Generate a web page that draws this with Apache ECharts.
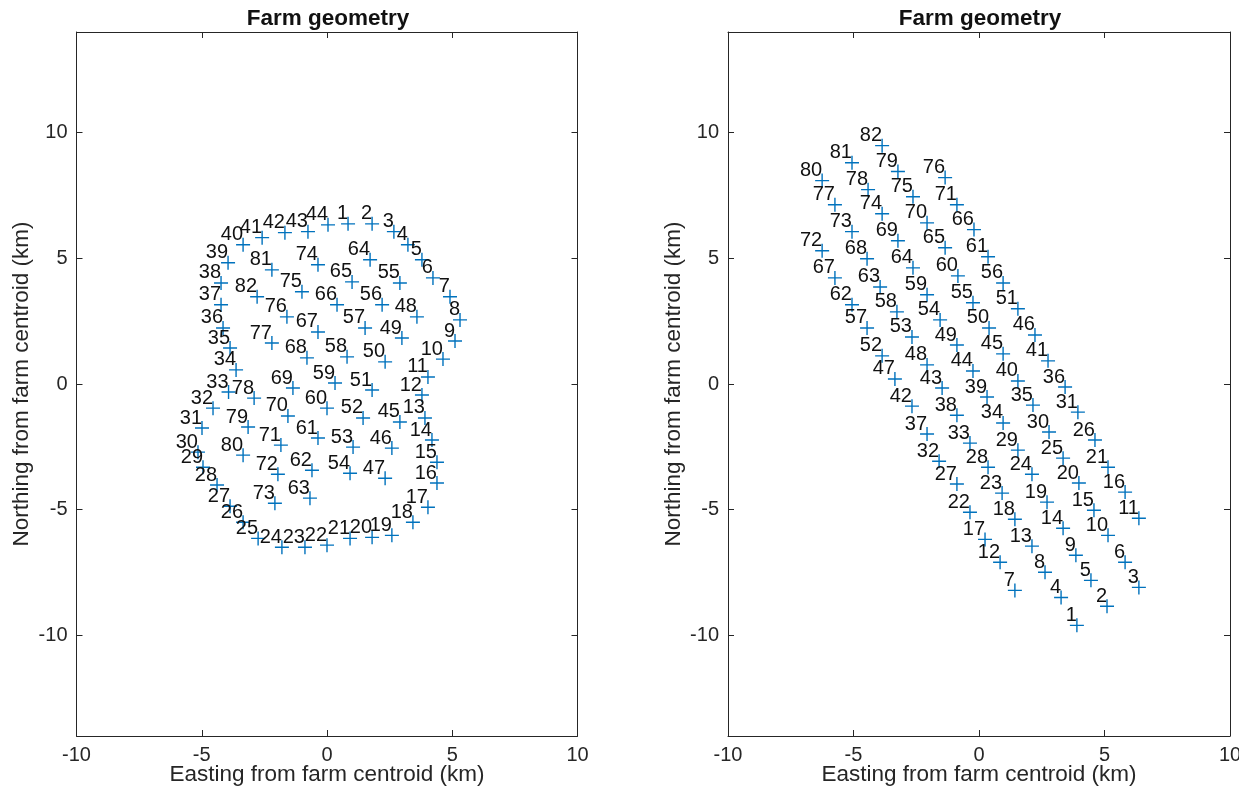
<!DOCTYPE html>
<html>
<head>
<meta charset="utf-8">
<script src="https://cdn.jsdelivr.net/npm/echarts@6/dist/echarts.min.js"></script>
<style>
html,body{margin:0;padding:0;background:#fff;}
#chart{width:1239px;height:790px;}
</style>
</head>
<body>
<div id="chart"></div>
<script>
// Left panel: turbine positions (km), turbine n = index+1
const leftX = [0.84,1.80,2.67,3.23,3.79,4.23,4.91,5.31,5.11,4.63,4.03,3.79,3.91,4.19,4.39,4.39,4.03,3.43,2.59,1.80,0.92,0.00,-0.88,-1.80,-2.75,-3.35,-3.87,-4.39,-4.95,-5.15,-4.99,-4.55,-3.93,-3.63,-3.87,-4.15,-4.23,-4.23,-3.95,-3.35,-2.59,-1.68,-0.76,0.04,2.91,2.59,2.32,3.59,2.99,2.32,1.80,1.44,1.04,0.92,2.91,2.20,1.52,0.80,0.32,0.00,-0.36,-0.60,-0.68,1.72,1.00,0.40,-0.36,-0.80,-1.36,-1.56,-1.84,-1.96,-2.08,-0.36,-1.00,-1.60,-2.20,-2.91,-3.15,-3.35,-2.20,-2.79];
const leftY = [6.37,6.37,6.06,5.54,4.94,4.22,3.47,2.55,1.71,0.99,0.28,-0.44,-1.35,-2.23,-3.11,-3.94,-4.90,-5.50,-6.02,-6.10,-6.14,-6.41,-6.49,-6.49,-6.14,-5.50,-4.86,-4.02,-3.31,-2.71,-1.75,-0.96,-0.32,0.56,1.43,2.23,3.15,4.02,4.82,5.54,5.82,6.02,6.06,6.33,-1.51,-2.55,-3.75,2.67,1.83,0.88,-0.24,-1.35,-2.51,-3.55,4.02,3.15,2.23,1.08,0.04,-0.96,-2.15,-3.43,-4.54,4.94,4.06,3.15,2.07,1.04,-0.16,-1.27,-2.43,-3.59,-4.74,4.74,3.67,2.67,1.63,-0.56,-1.71,-2.83,4.54,3.47];
// Right panel
const rightX = [3.90,5.10,6.37,3.27,4.46,5.82,1.43,2.63,3.86,5.14,6.37,0.84,2.11,3.35,4.58,5.82,0.24,1.43,2.71,3.98,5.14,-0.36,0.92,2.11,3.35,4.62,-0.88,0.36,1.55,2.79,3.94,-1.59,-0.36,0.96,2.15,3.43,-2.07,-0.88,0.32,1.55,2.75,-2.67,-1.47,-0.24,0.96,2.23,-3.35,-2.07,-0.88,0.40,1.55,-3.86,-2.67,-1.55,-0.24,0.96,-4.46,-3.27,-2.07,-0.84,0.36,-5.06,-3.94,-2.63,-1.35,-0.20,-5.74,-4.46,-3.23,-2.07,-0.88,-6.25,-5.06,-3.86,-2.63,-1.35,-5.74,-4.42,-3.23,-6.25,-5.06,-3.86];
const rightY = [-9.60,-8.84,-8.09,-8.49,-7.81,-7.09,-8.21,-7.49,-6.81,-6.02,-5.34,-7.09,-6.45,-5.74,-5.02,-4.30,-6.18,-5.38,-4.70,-3.94,-3.31,-5.10,-4.34,-3.59,-2.95,-2.23,-3.98,-3.31,-2.63,-1.91,-1.12,-3.07,-2.35,-1.55,-0.84,-0.12,-1.99,-1.24,-0.52,0.12,0.92,-0.88,-0.16,0.52,1.20,1.95,0.20,0.76,1.55,2.23,2.99,1.12,1.87,2.55,3.23,4.02,2.23,2.87,3.55,4.30,5.06,3.15,3.86,4.62,5.42,6.14,4.22,4.98,5.70,6.41,7.13,5.30,6.06,6.77,7.45,8.21,7.13,7.73,8.45,8.09,8.80,9.48];
const xTicks = [-10,-5,0,5,10];
const yTicks = [-10,-5,0,5,10];
const titles = ['Farm geometry','Farm geometry'];
const xName = 'Easting from farm centroid (km)';
const yName = 'Northing from farm centroid (km)';

const FONT = "'Liberation Sans', Arial, Helvetica, sans-serif";
const AX = '#262626';
const BLUE = '#0072BD';
const PLUS = 'path://M45,0H55V45H100V55H55V100H45V55H0V45H45Z';

function zip(xs, ys){ return xs.map((x,i)=>[x, ys[i]]); }

const grids = [
  {left: 76.5, top: 32, width: 501, height: 704, outerBoundsMode: 'none', containLabel: false},
  {left: 728, top: 32, width: 502, height: 704, outerBoundsMode: 'none', containLabel: false}
];

const xAxes = [], yAxes = [];
[0,1].forEach(g=>{
  const baseLine = {onZero:false, lineStyle:{color:AX, width:1}};
  xAxes.push({
    gridIndex:g, type:'value', min:-10, max:10, position:'bottom',
    axisLine: baseLine,
    axisTick:{inside:true, length:6, lineStyle:{color:AX}, customValues:xTicks},
    axisLabel:{customValues:xTicks, fontSize:20, color:AX, fontFamily:FONT, margin:9},
    splitLine:{show:false},
    name:xName, nameLocation:'middle', nameGap:39, nameMoveOverlap:false,
    nameTextStyle:{fontSize:22.5, color:AX, fontFamily:FONT, verticalAlign:'middle'}
  });
  xAxes.push({
    gridIndex:g, type:'value', min:-10, max:10, position:'top',
    axisLine: baseLine,
    axisTick:{inside:true, length:6, lineStyle:{color:AX}, customValues:xTicks},
    axisLabel:{show:false, customValues:xTicks},
    splitLine:{show:false}
  });
  yAxes.push({
    gridIndex:g, type:'value', min:-14, max:14, position:'left',
    axisLine: baseLine,
    axisTick:{inside:true, length:6, lineStyle:{color:AX}, customValues:yTicks},
    axisLabel:{customValues:yTicks, fontSize:20, color:AX, fontFamily:FONT, margin:9},
    splitLine:{show:false},
    name:yName, nameLocation:'middle', nameGap:43, nameMoveOverlap:false,
    nameTextStyle:{fontSize:22.5, color:AX, fontFamily:FONT}
  });
  yAxes.push({
    gridIndex:g, type:'value', min:-14, max:14, position:'right',
    axisLine: baseLine,
    axisTick:{inside:true, length:6, lineStyle:{color:AX}, customValues:yTicks},
    axisLabel:{show:false, customValues:yTicks},
    splitLine:{show:false}
  });
});

function series(data, g){
  return {
    type:'scatter', xAxisIndex:g*2, yAxisIndex:g*2, data:data,
    symbol:PLUS, symbolSize:14,
    itemStyle:{color:BLUE, opacity:1},
    label:{show:true, formatter:p=>String(p.dataIndex+1), position:[7,7],
      align:'right', verticalAlign:'bottom', fontSize:20, color:'#111', fontFamily:FONT},
    emphasis:{disabled:true},
    silent:true, animation:false
  };
}

const chart = echarts.init(document.getElementById('chart'), null, {renderer:'canvas'});
chart.setOption({
  animation:false,
  title: titles.map((t,i)=>({
    text:t, left: i===0 ? 323 : 975, top: 2, textAlign:'center',
    textStyle:{fontSize:22.5, fontWeight:'bold', color:'#111', fontFamily:FONT}
  })),
  grid: grids,
  xAxis: xAxes,
  yAxis: yAxes,
  series: [series(zip(leftX,leftY),0), series(zip(rightX,rightY),1)]
});
</script>
</body>
</html>
